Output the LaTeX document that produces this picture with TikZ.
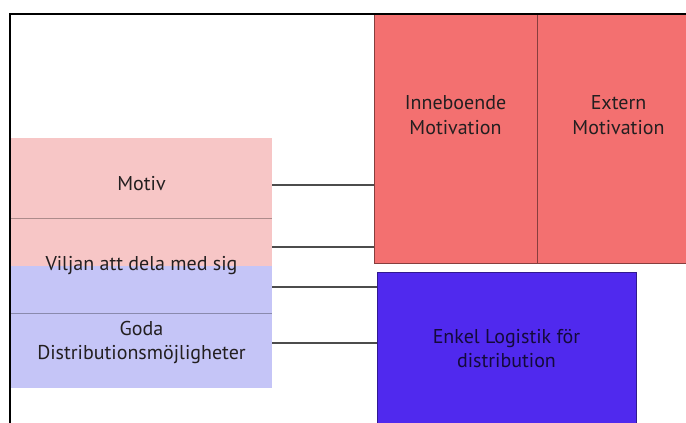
\documentclass[tikz,border=0pt]{standalone}
\usepackage{fontspec}
\setmainfont{PT Sans}
\usepackage{tikz}
\usetikzlibrary{calc}
\definecolor{motivpink}{HTML}{F7C6C6}
\definecolor{distlav}{HTML}{C5C5F7}
\definecolor{motred}{HTML}{F37070}
\definecolor{logblue}{HTML}{5029EE}
\definecolor{txtdark}{HTML}{231F20}

\begin{document}
\begin{tikzpicture}[
  x=1pt,y=-1pt,
  font=\fontsize{20}{24.5}\selectfont,
  box/.style={rectangle,inner sep=0pt,outer sep=0pt,align=center,text=txtdark},
  redbox/.style={box,fill=motred,draw=motred!55!black,line width=0.8pt,minimum width=163pt,minimum height=249pt},
  txt/.style={align=center,text=txtdark,inner sep=0pt},
  sep/.style={line width=0.6pt},
  conn/.style={draw=black!70,line width=1.1pt},
  frame/.style={line width=1.4pt}
]
\useasboundingbox (0,0) rectangle (686,423);
% left column
\node[box,fill=motivpink,minimum width=261pt,minimum height=80pt] (motiv) at (141.5,178) {};
\node[txt] (motiv-t) at (141.5,183.5) {Motiv};
\node[box,fill=motivpink,minimum width=261pt,minimum height=95pt,
  path picture={\fill[distlav] (path picture bounding box.west) rectangle (path picture bounding box.south east);}] (viljan) at (141.5,265.5) {Viljan att dela med sig};
\node[box,fill=distlav,minimum width=261pt,minimum height=75pt] (goda) at (141.5,350.5) {};
\node[txt] (goda-t) at (141.5,342.5) {Goda\\Distributionsmöjligheter};
\draw[sep,draw=motivpink!70!black] (motiv.south west) -- (motiv.south east);
\draw[sep,draw=distlav!70!black] (goda.north west) -- (goda.north east);
% right column
\node[redbox] (inneb) at (455.5,138.5) {};
\node[redbox] (extern) at (618.5,138.5) {};
\node[txt] (inneb-t) at (455.5,115) {Inneboende\\Motivation};
\node[txt] (extern-t) at (618.5,115) {Extern\\Motivation};
\node[box,fill=logblue,draw=logblue!60!black,line width=0.8pt,minimum width=259pt,minimum height=153pt,text=logblue!25!black] (enkel) at (506.5,348.5) {Enkel Logistik för\\distribution};
% frame
\draw[frame] (686,14) -- (10,14) -- (10,423);
% connectors
\draw[conn] ([yshift=-7pt]motiv.east) coordinate (c1) -- (c1 -| inneb.west);
\draw[conn] ([yshift=18.5pt]viljan.east) coordinate (c2) -- (c2 -| inneb.west);
\draw[conn] ([yshift=-21.5pt]viljan.east) coordinate (c3) -- (c3 -| enkel.west);
\draw[conn] ([yshift=7.5pt]goda.east) coordinate (c4) -- (c4 -| enkel.west);
\end{tikzpicture}
\end{document}
